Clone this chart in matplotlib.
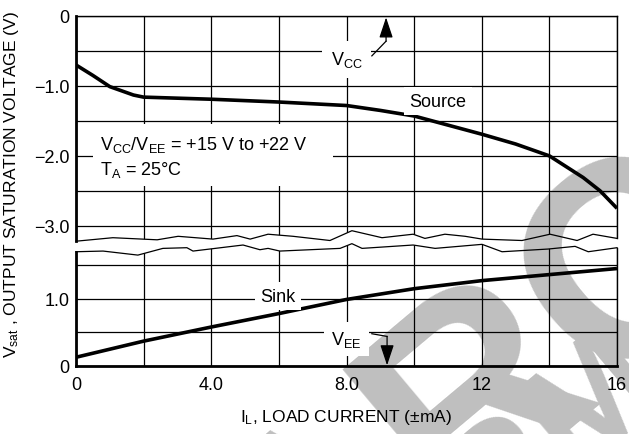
import numpy as np
import matplotlib
matplotlib.use('Agg')
import matplotlib.pyplot as plt
from matplotlib import font_manager
from matplotlib.patches import Polygon, Rectangle

# --- data ---
load_ma = [0, 0.5, 1.0, 1.7, 2.0, 4.0, 6.0, 8.0, 9.0, 10.0, 11.0, 12.0, 13.0, 14.0, 15.0, 15.5, 16.0]
source_v = [-0.70, -0.85, -1.01, -1.13, -1.16, -1.19, -1.23, -1.28, -1.35, -1.43, -1.56, -1.69,
            -1.83, -2.00, -2.31, -2.50, -2.75]

sink_ma = [0, 2, 4, 6, 8, 10, 12, 14, 16]
sink_v = [0.13, 0.37, 0.58, 0.78, 0.99, 1.15, 1.27, 1.36, 1.45]

# broken-axis squiggles (x in mA, y in each panel's volts)
brk_top_x = [0, 1.09, 2.40, 3.02, 4.05, 4.76, 5.15, 5.68, 6.42, 7.51, 8.16, 9.05, 9.97, 10.32,
             10.91, 11.51, 12.01, 13.19, 14.02, 14.82, 15.29, 16.0]
brk_top_y = [-3.22, -3.17, -3.20, -3.15, -3.19, -3.14, -3.19, -3.12, -3.15, -3.21, -3.07, -3.17,
             -3.12, -3.18, -3.12, -3.15, -3.19, -3.21, -3.12, -3.21, -3.12, -3.18]
brk_bot_x = [0, 0.80, 1.83, 2.57, 3.28, 3.46, 4.94, 5.44, 5.68, 6.03, 7.81, 8.16, 8.46, 9.97,
             10.62, 12.01, 12.60, 13.96, 14.76, 15.15, 16.0]
brk_bot_y = [1.70, 1.71, 1.65, 1.75, 1.76, 1.71, 1.80, 1.73, 1.75, 1.71, 1.75, 1.82, 1.75, 1.80,
             1.75, 1.81, 1.70, 1.74, 1.78, 1.70, 1.76]

x_ticks = np.arange(0, 17, 2)
x_labels = ['0', '', '4.0', '', '8.0', '', '12', '', '16']
top_ticks = np.arange(-3.0, 0.01, 0.5)
top_labels = ['\u22123.0', '', '\u22122.0', '', '\u22121.0', '', '0']
bot_ticks = [0, 0.5, 1.0, 1.5]
bot_labels = ['0', '', '1.0', '']

names = {f.name for f in font_manager.fontManager.ttflist}
if 'Liberation Sans Narrow' in names:
    FONT, FS, FSL = 'Liberation Sans Narrow', 15, 15
else:
    FONT, FS, FSL = 'Liberation Sans', 13, 12.5

plt.rcParams['font.family'] = [FONT, 'DejaVu Sans']
plt.rcParams['mathtext.fontset'] = 'custom'
plt.rcParams['mathtext.rm'] = FONT
plt.rcParams['mathtext.it'] = FONT + ':italic'
plt.rcParams['mathtext.bf'] = FONT + ':bold'
plt.rcParams['font.size'] = FS

fig = plt.figure(figsize=(6.29, 4.35), dpi=100)
L = 76 / 629
W = (617 - 76) / 629
ax_top = fig.add_axes([L, 1 - 245 / 435, W, 228 / 435])
ax_bot = fig.add_axes([L, 1 - 367 / 435, W, 123 / 435])

# watermark
wm = dict(fontweight='bold', family='Liberation Sans', color='#bfbfbf', rotation=40,
          ha='center', va='center', rotation_mode='anchor', zorder=-1)
fig.text(1.16, 0.55, 'ARCHIVE', fontsize=200, **wm)
fig.text(0.94, 0.07, 'INFORMATION', fontsize=110, **wm)

for ax in (ax_top, ax_bot):
    ax.set_facecolor('none')
    ax.set_xlim(0, 16)
    ax.set_xticks(x_ticks)
    ax.grid(True, color='black', lw=0.9)
    ax.tick_params(length=0, labelsize=FS)
    ax.tick_params(axis='y', pad=4.5)
    ax.tick_params(axis='x', pad=7)

# top panel
ax_top.set_ylim(-3.26, 0)
ax_top.set_yticks(top_ticks)
ax_top.set_yticklabels(top_labels)
ax_top.set_xticklabels([])
ax_top.spines['bottom'].set_visible(False)
ax_top.spines['left'].set_linewidth(2.0)
ax_top.spines['left'].set_bounds(brk_top_y[0], 0)
ax_top.spines['right'].set_linewidth(1.0)
ax_top.spines['right'].set_bounds(brk_top_y[-1], 0)
ax_top.spines['top'].set_linewidth(1.0)
ax_top.plot(brk_top_x, brk_top_y, color='black', lw=0.9, clip_on=False)
clip_top = Polygon(list(zip(brk_top_x, brk_top_y)) + [(16, 1), (0, 1)], closed=True,
                   transform=ax_top.transData)
for t in ax_top.xaxis.get_major_ticks() + ax_top.yaxis.get_major_ticks():
    t.gridline.set_clip_path(clip_top)

ax_top.plot(load_ma, source_v, color='black', lw=2.6, zorder=4, solid_capstyle='butt')

# bottom panel
ax_bot.set_ylim(0, 1.83)
ax_bot.set_yticks(bot_ticks)
ax_bot.set_yticklabels(bot_labels)
ax_bot.set_xticklabels(x_labels)
ax_bot.spines['top'].set_visible(False)
ax_bot.spines['left'].set_linewidth(2.0)
ax_bot.spines['left'].set_bounds(0, brk_bot_y[0])
ax_bot.spines['bottom'].set_linewidth(2.0)
ax_bot.spines['right'].set_linewidth(1.0)
ax_bot.spines['right'].set_bounds(0, brk_bot_y[-1])
ax_bot.plot(brk_bot_x, brk_bot_y, color='black', lw=0.9, clip_on=False)
clip_bot = Polygon(list(zip(brk_bot_x, brk_bot_y)) + [(16, -1), (0, -1)], closed=True,
                   transform=ax_bot.transData)
for t in ax_bot.xaxis.get_major_ticks() + ax_bot.yaxis.get_major_ticks():
    t.gridline.set_clip_path(clip_bot)

ax_bot.plot(sink_ma, sink_v, color='black', lw=2.6, zorder=4, solid_capstyle='butt')

# labels on the chart
box = dict(facecolor='white', edgecolor='none', pad=4)
ax_top.text(8.0, -0.62, r'V$_{\mathrm{CC}}$', ha='center', va='center', zorder=5,
            bbox=dict(facecolor='white', edgecolor='none', pad=6))
ax_top.plot([8.75, 9.17], [-0.57, -0.36], color='black', lw=0.9)
ax_top.annotate('', xy=(9.17, -0.02), xytext=(9.17, -0.36),
                arrowprops=dict(arrowstyle='-|>,head_length=0.9,head_width=0.3',
                                color='black', lw=0.9, mutation_scale=14, shrinkA=0, shrinkB=0))
ax_top.text(10.7, -1.22, 'Source', ha='center', va='center', zorder=5, bbox=box)

ax_top.add_patch(Rectangle((0.5, -2.43), 7.1, 0.885, facecolor='white', edgecolor='none',
                           zorder=2.5))
ax_top.text(0.71, -1.83, r'V$_{\mathrm{CC}}$/V$_{\mathrm{EE}}$ = +15 V to +22 V',
            ha='left', va='center', zorder=5)
ax_top.text(0.71, -2.19, 'T$_{\\mathrm{A}}$ = 25\u00b0C', ha='left', va='center', zorder=5)

ax_bot.text(5.98, 1.04, 'Sink', ha='center', va='center', zorder=5, bbox=box)
ax_bot.text(8.0, 0.40, r'V$_{\mathrm{EE}}$', ha='center', va='center', zorder=5,
            bbox=dict(facecolor='white', edgecolor='none', pad=5))
ax_bot.plot([8.75, 9.2], [0.48, 0.44], color='black', lw=0.9)
ax_bot.annotate('', xy=(9.2, 0.01), xytext=(9.2, 0.44),
                arrowprops=dict(arrowstyle='-|>,head_length=0.9,head_width=0.3',
                                color='black', lw=0.9, mutation_scale=14, shrinkA=0, shrinkB=0))

fig.text(12 / 629, 1 - 185 / 435, r'V$_{\mathrm{sat}}$ , OUTPUT SATURATION VOLTAGE (V)',
         rotation=90, ha='center', va='center', fontsize=FSL)
fig.text(346 / 629, 1 - 418 / 435, 'I$_{\\mathrm{L}}$, LOAD CURRENT (\u00b1mA)',
         ha='center', va='center', fontsize=FSL)

fig.savefig('out.png', dpi=100)
